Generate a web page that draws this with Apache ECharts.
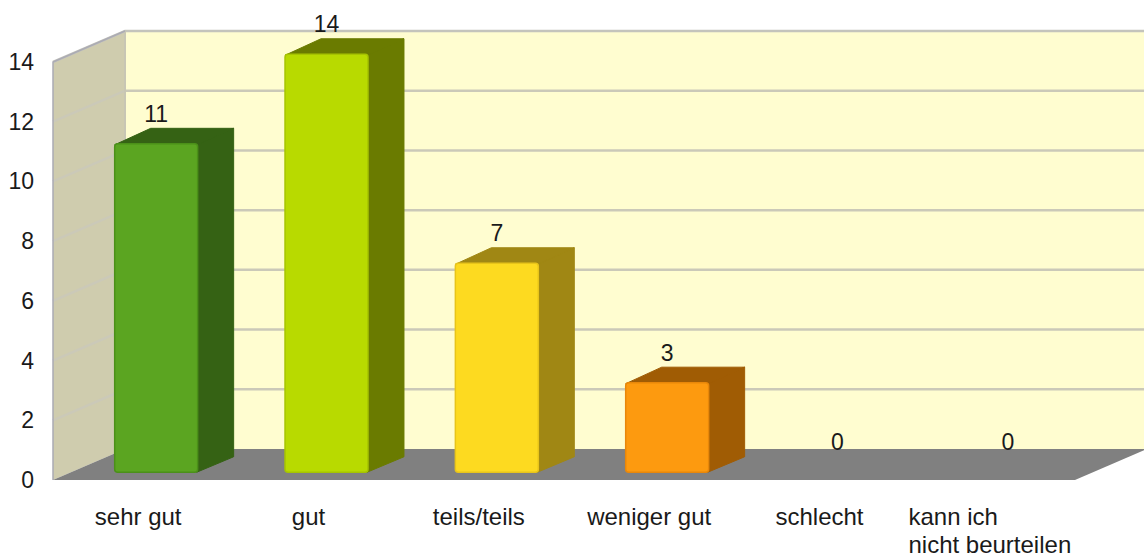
<!DOCTYPE html>
<html><head><meta charset="utf-8">
<script src="https://cdn.jsdelivr.net/npm/echarts@6/dist/echarts.min.js"></script>
<style>html,body{margin:0;padding:0;background:#fff}#c{width:1144px;height:558px}</style>
</head><body><div id="c"></div>
<script>
// ---- data ----
const categories = ['sehr gut', 'gut', 'teils/teils', 'weniger gut', 'schlecht', 'kann ich\nnicht beurteilen'];
const values = [11, 14, 7, 3, 0, 0];
const yMin = 0, yMax = 14, yStep = 2;
const frontColors = ['#5BA521', '#B8DA00', '#FDDA20', '#FD9A0F', '#7CB2E0', '#C0C0C0'];
const sideColors  = ['#356214', '#6A7B00', '#A08714', '#A05C04', '#4A6A86', '#808080'];
const edgeColors  = ['#4B9019', '#A6C400', '#E8C41A', '#E8870A', '#6A9AC0', '#A0A0A0'];

// ---- 3D style constants ----
const DEPTH = [72, -31];      // full depth offset of the box
const BAR_FRONT = 0.25;       // bar front plane, fraction of depth
const BAR_DEPTH = 0.5;        // bar depth, fraction of depth
const BAR_WIDTH = 0.487;      // bar width, fraction of band
const FONT = '"Liberation Sans", Arial, sans-serif';

const chart = echarts.init(document.getElementById('c'), null, {renderer: 'svg'});

function renderBackground(params, api) {
  const cs = params.coordSys;
  const x0 = cs.x, x1 = cs.x + cs.width, yT = cs.y, yB = cs.y + cs.height;
  const dx = DEPTH[0], dy = DEPTH[1];
  const children = [];
  children.push({type: 'polygon', shape: {points: [[x0 + dx, yT + dy], [x1 + dx, yT + dy], [x1 + dx, yB + dy], [x0 + dx, yB + dy]]},
    style: {fill: '#FFFDD0'}});
  children.push({type: 'polygon', shape: {points: [[x0, yT], [x0 + dx, yT + dy], [x0 + dx, yB + dy], [x0, yB]]},
    style: {fill: '#CFCCAE'}});
  for (let t = yMin + yStep; t <= yMax; t += yStep) {
    const y = api.coord([0, t])[1];
    children.push({type: 'polyline', shape: {points: [[x0, y], [x0 + dx, y + dy], [x1 + dx, y + dy]]},
      style: {stroke: t === yMax ? '#C4C4BC' : '#CBC9B8', lineWidth: 2.5, fill: null}});
  }
  children.push({type: 'line', shape: {x1: x0 + dx, y1: yT + dy, x2: x0 + dx, y2: yB + dy},
    style: {stroke: '#C8C6B4', lineWidth: 2}});
  children.push({type: 'polyline', shape: {points: [[x0, yB], [x0, yT], [x0 + dx, yT + dy]]},
    style: {stroke: '#ABABB4', lineWidth: 1.5, fill: null}});
  children.push({type: 'polygon', shape: {points: [[x0, yB], [x1, yB], [x1 + dx, yB + dy], [x0 + dx, yB + dy]]},
    style: {fill: '#808080'}});
  return {type: 'group', children: children};
}

function renderBar(params, api) {
  const i = api.value(0), v = api.value(1);
  const base = api.coord([i, 0]);
  const top = api.coord([i, v]);
  const bw = api.size([1, 0])[0] * BAR_WIDTH;
  const fx = DEPTH[0] * BAR_FRONT, fy = DEPTH[1] * BAR_FRONT;
  const bx = DEPTH[0] * BAR_DEPTH, by = DEPTH[1] * BAR_DEPTH;
  const cx = base[0] + fx;
  const xl = cx - bw / 2, xr = cx + bw / 2;
  const yb = base[1] + fy, yt = top[1] + fy;
  const children = [];
  if (v > 0) {
    const side = sideColors[i];
    children.push({type: 'polygon', shape: {points: [[xr - 1, yt], [xr + bx, yt + by], [xr + bx, yb + by], [xr - 1, yb]]},
      style: {fill: side, stroke: side, lineWidth: 1, lineJoin: 'round'}});
    children.push({type: 'polygon', shape: {points: [[xl, yt + 1], [xl + bx, yt + by], [xr + bx, yt + by], [xr, yt + 1]]},
      style: {fill: side, stroke: side, lineWidth: 1, lineJoin: 'round'}});
    children.push({type: 'rect', shape: {x: xl, y: yt, width: bw, height: yb - yt, r: 3},
      style: {fill: frontColors[i], stroke: edgeColors[i], lineWidth: 1.5}});
  }
  children.push({type: 'text', x: cx, y: yt + by - 3,
    style: {text: String(values[i]), fill: '#1A1A1A', font: '23px ' + FONT, align: 'center', verticalAlign: 'bottom'}});
  return {type: 'group', children: children};
}

chart.setOption({
  animation: false,
  backgroundColor: '#FFFFFF',
  grid: {left: 53, right: 69, top: 62, bottom: 78},
  xAxis: {
    type: 'category', data: categories,
    axisLine: {show: false}, axisTick: {show: false}, splitLine: {show: false},
    axisLabel: {
      margin: 22, color: '#1A1A1A', fontSize: 24, fontFamily: FONT, interval: 0,
      formatter: function (s) { return s.split('\n').map(function (l) { return '{l|' + l + '}'; }).join('\n'); },
      rich: {l: {align: 'left', fontSize: 24, fontFamily: FONT, color: '#1A1A1A', lineHeight: 28}}
    }
  },
  yAxis: {
    type: 'value', min: yMin, max: yMax, interval: yStep,
    axisLine: {show: false}, axisTick: {show: false}, splitLine: {show: false},
    axisLabel: {margin: 19, color: '#1A1A1A', fontSize: 23, fontFamily: FONT}
  },
  series: [
    {type: 'custom', renderItem: renderBackground, data: [[0, 0]], z: 1, silent: true},
    {type: 'custom', renderItem: renderBar, data: values.map(function (v, i) { return [i, v]; }), z: 2, silent: true}
  ]
});
</script>
</body></html>
